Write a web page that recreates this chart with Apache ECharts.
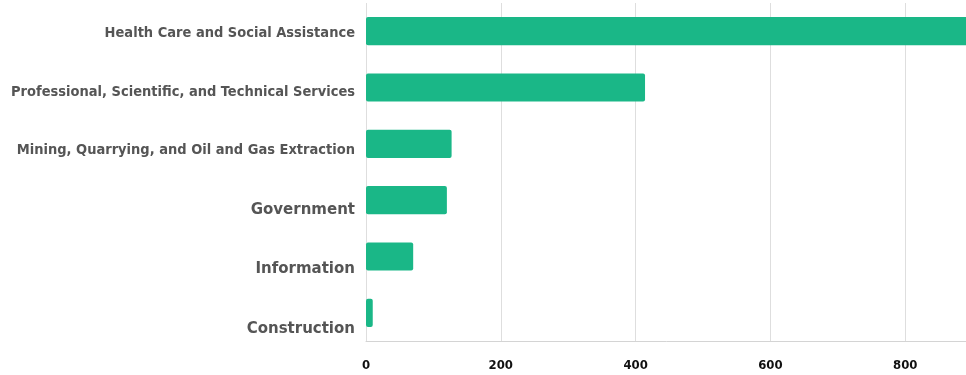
<!DOCTYPE html>
<html>
<head>
<meta charset="utf-8">
<style>
  html, body { margin: 0; padding: 0; background: #ffffff; }
  #chart { width: 966px; height: 375px; }
</style>
<script src="https://cdn.jsdelivr.net/npm/echarts@6/dist/echarts.min.js"></script>
</head>
<body>
<div id="chart"></div>
<script>
// Industries, listed bottom to top as the category axis draws them
const industries = [
  'Construction',
  'Information',
  'Government',
  'Mining, Quarrying, and Oil and Gas Extraction',
  'Professional, Scientific, and Technical Services',
  'Health Care and Social Assistance'
];
const counts = [10, 70, 120, 127, 414, 925];
const xTicks = [0, 200, 400, 600, 800, 1000];

// Label typography: long names use a condensed face; each label drops a little below its bar
const labelDrop = [16, 12.5, 10, 6, 5, 2.5];
const longNames = new Set([
  'Mining, Quarrying, and Oil and Gas Extraction',
  'Professional, Scientific, and Technical Services',
  'Health Care and Social Assistance'
]);

const chart = echarts.init(document.getElementById('chart'), null, { renderer: 'canvas' });

const rich = {};
industries.forEach((name, i) => {
  const isLong = longNames.has(name);
  rich['c' + i] = {
    fontFamily: isLong ? '"DejaVu Sans Condensed", Roboto, sans-serif' : '"DejaVu Sans", sans-serif',
    fontWeight: 'bold',
    fontSize: isLong ? 14.5 : 15,
    color: '#555555',
    padding: [labelDrop[i] * 2, 0, 0, 0]
  };
});

chart.setOption({
  animation: false,
  grid: { left: 366, right: -74, top: 3, bottom: 34, outerBoundsMode: 'none' },
  xAxis: {
    type: 'value',
    min: xTicks[0],
    max: xTicks[xTicks.length - 1],
    interval: xTicks[1] - xTicks[0],
    axisLine: { show: true, lineStyle: { color: '#d4d4d4', width: 1 } },
    axisTick: { show: false },
    splitLine: { show: true, lineStyle: { color: '#dedede', width: 1 } },
    axisLabel: {
      margin: 18.5,
      fontFamily: '"DejaVu Sans Condensed", "DejaVu Sans", sans-serif',
      fontWeight: 'bold',
      fontSize: 13,
      color: '#111111'
    }
  },
  yAxis: {
    type: 'category',
    data: industries,
    axisLine: { show: false },
    axisTick: { show: false },
    splitLine: { show: false },
    axisLabel: {
      margin: 11,
      formatter: (name) => '{c' + industries.indexOf(name) + '|' + name + '}',
      rich: rich
    }
  },
  series: [{
    type: 'bar',
    data: counts,
    barWidth: '50%',
    itemStyle: { color: '#1ab787', borderRadius: 2 },
    silent: true
  }]
});
</script>
</body>
</html>
